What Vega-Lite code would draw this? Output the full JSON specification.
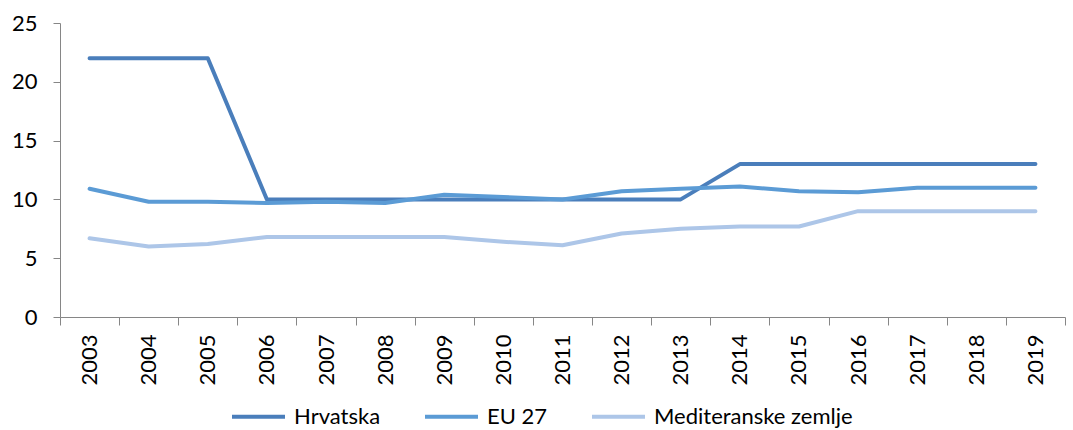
{
  "$schema": "https://vega.github.io/schema/vega-lite/v6.json",
  "width": 1005,
  "height": 294,
  "autosize": {"type": "none"},
  "padding": {"left": 60, "top": 23, "right": 8, "bottom": 113},
  "config": {
    "view": {"stroke": null},
    "font": "Lato",
    "axis": {"labelFont": "Lato", "labelColor": "#000000", "labelFontSize": 22, "domainColor": "#868686", "tickColor": "#868686", "grid": false, "title": null}
  },
  "data": {
    "values": [
      {"year": "2003", "series": "Hrvatska", "value": 22},
      {"year": "2004", "series": "Hrvatska", "value": 22},
      {"year": "2005", "series": "Hrvatska", "value": 22},
      {"year": "2006", "series": "Hrvatska", "value": 10},
      {"year": "2007", "series": "Hrvatska", "value": 10},
      {"year": "2008", "series": "Hrvatska", "value": 10},
      {"year": "2009", "series": "Hrvatska", "value": 10},
      {"year": "2010", "series": "Hrvatska", "value": 10},
      {"year": "2011", "series": "Hrvatska", "value": 10},
      {"year": "2012", "series": "Hrvatska", "value": 10},
      {"year": "2013", "series": "Hrvatska", "value": 10},
      {"year": "2014", "series": "Hrvatska", "value": 13},
      {"year": "2015", "series": "Hrvatska", "value": 13},
      {"year": "2016", "series": "Hrvatska", "value": 13},
      {"year": "2017", "series": "Hrvatska", "value": 13},
      {"year": "2018", "series": "Hrvatska", "value": 13},
      {"year": "2019", "series": "Hrvatska", "value": 13},
      {"year": "2003", "series": "EU 27", "value": 10.9},
      {"year": "2004", "series": "EU 27", "value": 9.8},
      {"year": "2005", "series": "EU 27", "value": 9.8},
      {"year": "2006", "series": "EU 27", "value": 9.7},
      {"year": "2007", "series": "EU 27", "value": 9.8},
      {"year": "2008", "series": "EU 27", "value": 9.7},
      {"year": "2009", "series": "EU 27", "value": 10.4},
      {"year": "2010", "series": "EU 27", "value": 10.2},
      {"year": "2011", "series": "EU 27", "value": 10.0},
      {"year": "2012", "series": "EU 27", "value": 10.7},
      {"year": "2013", "series": "EU 27", "value": 10.9},
      {"year": "2014", "series": "EU 27", "value": 11.1},
      {"year": "2015", "series": "EU 27", "value": 10.7},
      {"year": "2016", "series": "EU 27", "value": 10.6},
      {"year": "2017", "series": "EU 27", "value": 11.0},
      {"year": "2018", "series": "EU 27", "value": 11.0},
      {"year": "2019", "series": "EU 27", "value": 11.0},
      {"year": "2003", "series": "Mediteranske zemlje", "value": 6.7},
      {"year": "2004", "series": "Mediteranske zemlje", "value": 6.0},
      {"year": "2005", "series": "Mediteranske zemlje", "value": 6.2},
      {"year": "2006", "series": "Mediteranske zemlje", "value": 6.8},
      {"year": "2007", "series": "Mediteranske zemlje", "value": 6.8},
      {"year": "2008", "series": "Mediteranske zemlje", "value": 6.8},
      {"year": "2009", "series": "Mediteranske zemlje", "value": 6.8},
      {"year": "2010", "series": "Mediteranske zemlje", "value": 6.4},
      {"year": "2011", "series": "Mediteranske zemlje", "value": 6.1},
      {"year": "2012", "series": "Mediteranske zemlje", "value": 7.1},
      {"year": "2013", "series": "Mediteranske zemlje", "value": 7.5},
      {"year": "2014", "series": "Mediteranske zemlje", "value": 7.7},
      {"year": "2015", "series": "Mediteranske zemlje", "value": 7.7},
      {"year": "2016", "series": "Mediteranske zemlje", "value": 9.0},
      {"year": "2017", "series": "Mediteranske zemlje", "value": 9.0},
      {"year": "2018", "series": "Mediteranske zemlje", "value": 9.0},
      {"year": "2019", "series": "Mediteranske zemlje", "value": 9.0}
    ]
  },
  "mark": {"type": "line", "strokeWidth": 4, "strokeCap": "round", "strokeJoin": "round"},
  "encoding": {
    "x": {
      "field": "year", "type": "ordinal",
      "scale": {"type": "band", "paddingInner": 0, "paddingOuter": 0},
      "axis": {"labelAngle": -90, "labelAlign": "right", "labelBaseline": "middle", "tickBand": "extent", "tickSize": 8, "labelPadding": 9}
    },
    "y": {
      "field": "value", "type": "quantitative",
      "scale": {"domain": [0, 25], "nice": false},
      "axis": {"values": [0, 5, 10, 15, 20, 25], "tickSize": 7, "labelPadding": 16}
    },
    "color": {
      "field": "series", "type": "nominal",
      "scale": {"domain": ["Hrvatska", "EU 27", "Mediteranske zemlje"], "range": ["#4A7EBB", "#5B9BD5", "#ADC6E8"]},
      "legend": {
        "title": null, "orient": "none", "direction": "horizontal",
        "legendX": 170, "legendY": 365,
        "symbolType": "stroke", "symbolSize": 2809, "symbolStrokeWidth": 4,
        "labelFontSize": 22, "labelFont": "Lato", "labelColor": "#000000",
        "labelLimit": 400, "columnPadding": 36, "labelOffset": 7
      }
    }
  }
}
